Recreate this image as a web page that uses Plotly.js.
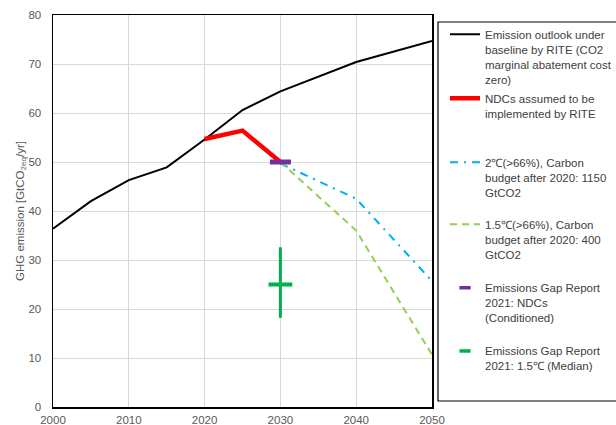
<!DOCTYPE html>
<html><head><meta charset="utf-8">
<script src="https://cdn.plot.ly/plotly-3.0.1.min.js"></script>
<style>html,body{margin:0;padding:0;background:#fff}</style>
</head><body><div id="chart" style="width:616px;height:425px"></div>
<script>
// ---- data ----
const baseYears = [2000, 2005, 2010, 2015, 2020, 2025, 2030, 2040, 2050];
const baseline = [36.4, 42.0, 46.3, 48.9, 54.6, 60.6, 64.4, 70.4, 74.7];
const ndcYears = [2020, 2025, 2030];
const ndc = [54.7, 56.4, 50.0];
const scenYears = [2030, 2040, 2050];
const twoDeg = [49.7, 42.5, 25.7];
const onePointFive = [50.0, 36.0, 10.7];
const egrYear = [2030];
const egrNdc = [50.0];
const egr15 = [25.0];
const egr15Plus = [7.6];
const egr15Minus = [6.8];
const xTicks = [2000, 2010, 2020, 2030, 2040, 2050];
const yTicks = [0, 10, 20, 30, 40, 50, 60, 70, 80];
const names = [
  'Emission outlook under<br>baseline by RITE (CO2<br>marginal abatement cost<br>zero)',
  'NDCs assumed to be<br>implemented by RITE',
  '2\u2103(>66%), Carbon<br>budget after 2020: 1150<br>GtCO2',
  '1.5\u2103(>66%), Carbon<br>budget after 2020: 400<br>GtCO2',
  'Emissions Gap Report<br>2021: NDCs<br>(Conditioned)',
  'Emissions Gap Report<br>2021: 1.5\u2103 (Median)'
];

// ---- layout helpers ----
const W = 616, H = 425, mL = 53, mR = 184, mT = 15, mB = 18;
const pw = W - mL - mR, ph = H - mT - mB;
const px2x = p => (p - mL) / pw;
const px2y = p => (H - mB - p) / ph;
const legendCenters = [34.3, 98.3, 162.3, 224.3, 287.7, 351];
const legendKeys = ['legend', 'legend2', 'legend3', 'legend4', 'legend5', 'legend6'];

const traces = [
  {x: baseYears, y: baseline, mode: 'lines', name: names[0], legend: legendKeys[0],
   line: {color: '#000000', width: 2}},
  {x: ndcYears, y: ndc, mode: 'lines', name: names[1], legend: legendKeys[1],
   line: {color: '#FF0000', width: 4.5}},
  {x: scenYears, y: twoDeg, mode: 'lines', name: names[2], legend: legendKeys[2],
   line: {color: '#00B0F0', width: 2, dash: '8px,6px,2px,6px'}},
  {x: scenYears, y: onePointFive, mode: 'lines', name: names[3], legend: legendKeys[3],
   line: {color: '#92D050', width: 2, dash: '7px,5px'}},
  {x: egrYear, y: egrNdc, mode: 'markers', showlegend: false,
   marker: {symbol: 'line-ew', size: 15, color: '#7030A0', line: {color: '#7030A0', width: 5}}},
  {x: egrYear, y: egr15, mode: 'markers', showlegend: false,
   marker: {symbol: 'line-ew', size: 17, color: '#00B050', line: {color: '#00B050', width: 4}},
   error_y: {type: 'data', symmetric: false, array: egr15Plus, arrayminus: egr15Minus,
             thickness: 3, width: 0, color: '#00B050'}},
  // legend-only entries (small dash symbols as in the original legend)
  {x: [null], y: [null], mode: 'markers', name: names[4], legend: legendKeys[4],
   marker: {symbol: 'line-ew', size: 8, color: '#7030A0', line: {color: '#7030A0', width: 3.5}}},
  {x: [null], y: [null], mode: 'markers', name: names[5], legend: legendKeys[5],
   marker: {symbol: 'line-ew', size: 8, color: '#00B050', line: {color: '#00B050', width: 3.5}}}
];

const font = {family: '"Liberation Sans", Arial, sans-serif', size: 11.5, color: '#595959'};
const layout = {
  width: W, height: H,
  margin: {l: mL, r: mR, t: mT, b: mB, pad: 0, autoexpand: false},
  paper_bgcolor: '#ffffff', plot_bgcolor: '#ffffff',
  font: font,
  showlegend: true,
  xaxis: {range: [2000, 2050], tickvals: xTicks, ticktext: xTicks.map(String),
          showgrid: true, gridcolor: '#d9d9d9', gridwidth: 1, zeroline: false,
          showline: true, linecolor: '#000000', linewidth: 1.5, mirror: true,
          ticks: '', ticklabelstandoff: 2, tickfont: font, fixedrange: true},
  yaxis: {range: [0, 80], tickvals: yTicks, ticktext: yTicks.map(String),
          showgrid: true, gridcolor: '#d9d9d9', gridwidth: 1, zeroline: false,
          showline: true, linecolor: '#000000', linewidth: 1.5, mirror: true,
          ticks: '', ticklabelstandoff: 8, tickfont: font, fixedrange: true,
          title: {text: 'GHG emission [GtCO<sub>2eq</sub>/yr]', font: font, standoff: 1}},
  shapes: [{type: 'rect', xref: 'paper', yref: 'paper',
            x0: px2x(438), x1: px2x(620), y0: px2y(401), y1: px2y(22),
            line: {color: '#000000', width: 1.2}, fillcolor: 'rgba(0,0,0,0)'}]
};
legendKeys.forEach((k, i) => {
  layout[k] = {x: px2x(445), y: px2y(legendCenters[i] - 14), xanchor: 'left', yanchor: 'top',
               valign: 'top', bgcolor: 'rgba(0,0,0,0)', borderwidth: 0,
               font: {family: font.family, size: 11.5, color: '#404040'}};
});
Plotly.newPlot('chart', traces, layout, {displayModeBar: false, staticPlot: true});
</script></body></html>
